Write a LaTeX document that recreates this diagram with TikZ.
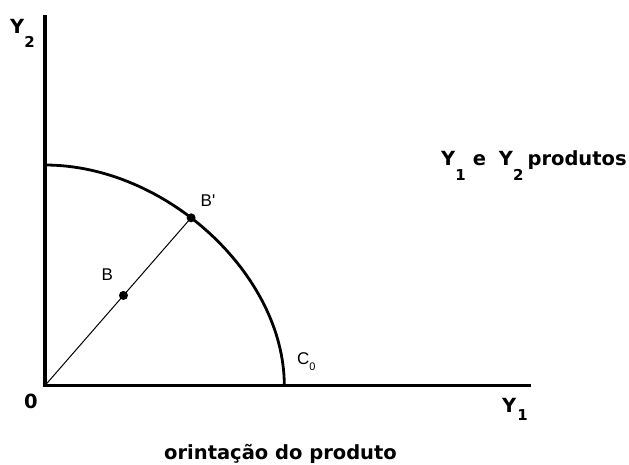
\documentclass[tikz,border=0pt]{standalone}
\usepackage{fontspec}
\setmainfont{DejaVu Sans}
\newfontfamily\arialf{Liberation Sans}[Ligatures=TeXOff]
\newcommand{\lowsub}[2]{\raisebox{-#1}{\fontsize{15}{15}\selectfont #2}}
\begin{document}
\begin{tikzpicture}[x=1pt,y=-1pt,
  boldlbl/.style={font=\fontsize{19.5}{20}\selectfont\bfseries, inner sep=0pt, anchor=base west},
  reglbl/.style={font=\arialf\fontsize{17}{18}\selectfont, inner sep=0pt, anchor=base west},
  axisline/.style={line width=3.2pt, line join=miter},
  curveline/.style={line width=2.8pt},
  ray/.style={line width=1pt},
  dot/.style={circle, fill=black, inner sep=0pt, minimum size=9pt}]
\path[use as bounding box] (0,0) rectangle (629,464);
% axes
\coordinate (ytop) at (45,15);
\coordinate (o) at (45,385.5);
\coordinate (xend) at (531,385.5);
\draw[axisline] (ytop) -- (o) -- (xend);
% curve C0
\coordinate (cstart) at (45,165);
\coordinate (cend) at (284.3,385.5);
\draw[curveline] (cstart) .. controls (165.6,165) and (284.3,274.4) .. (cend)
  node[pos=0.433, dot] (bp) {};
% ray from origin to B'
\draw[ray] (o) -- (bp.center) node[pos=0.537, dot] (b) {};
% labels
\node[boldlbl] (y2lab) at (10,33) {Y\lowsub{14pt}{2}};
\node[boldlbl] (zero) at (24,408) {0};
\node[boldlbl] (y1lab) at (502,412) {Y\hspace{1pt}\lowsub{8pt}{1}};
\node[boldlbl] (prod) at (441,165) {Y\lowsub{15pt}{1}\hspace{7pt}e\hspace{13pt}Y\lowsub{15pt}{2}\hspace{4pt}produtos};
\node[boldlbl, anchor=base] (cap) at (280.5,459) {orintação do produto};
\node[reglbl] (blab) at (101.5,280) {B};
\node[reglbl] (bplab) at (200.5,206) {B'};
\node[reglbl] (clab) at (297,364) {C\raisebox{-6pt}{\fontsize{11}{11}\selectfont 0}};
\end{tikzpicture}
\end{document}
